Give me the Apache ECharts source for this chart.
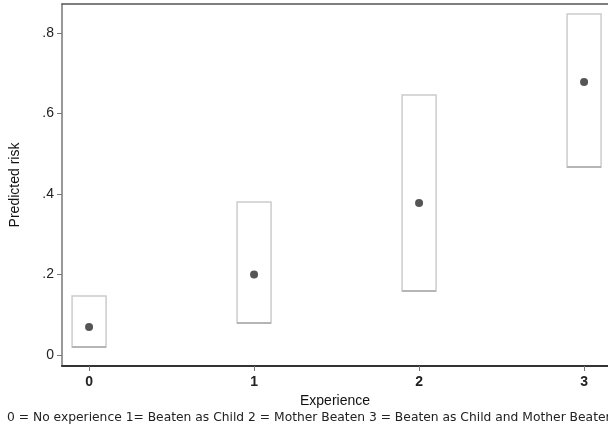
<!DOCTYPE html>
<html><head><meta charset="utf-8">
<script src="https://cdn.jsdelivr.net/npm/echarts@6/dist/echarts.min.js"></script>
<style>html,body{margin:0;padding:0;background:#fff}#c{width:608px;height:431px}</style>
</head><body><div id="c"></div>
<script>
const experience = [0, 1, 2, 3];
const predicted = [0.07, 0.20, 0.378, 0.678];
const lower = [0.02, 0.08, 0.159, 0.467];
const upper = [0.147, 0.38, 0.646, 0.847];
const yTicks = [0, 0.2, 0.4, 0.6, 0.8];
const xTicks = [0, 1, 2, 3];
const footnote = '0 = No experience 1= Beaten as Child 2 = Mother Beaten 3 = Beaten as Child and Mother Beaten';

const chart = echarts.init(document.getElementById('c'), null, {renderer: 'canvas'});
const font = "'Liberation Sans', Arial, sans-serif";
const halfW = 0.103;
const xMin = -0.164, xMax = 3.145;
chart.setOption({
  animation: false,
  grid: {left: 62, top: 4, right: 0, bottom: 65, show: false},
  xAxis: [{
    type: 'value', min: xMin, max: xMax,
    name: 'Experience', nameLocation: 'middle', nameGap: 27,
    nameTextStyle: {fontFamily: font, fontSize: 14, color: '#111'},
    axisLine: {onZero: false, lineStyle: {color: '#333', width: 2}},
    axisTick: {show: true, length: 5, lineStyle: {color: '#777'}, customValues: xTicks},
    axisLabel: {customValues: xTicks, fontFamily: font, fontSize: 14, fontWeight: 'bold', color: '#222', margin: 9},
    splitLine: {show: false}
  }, {
    type: 'value', position: 'top', min: xMin, max: xMax,
    axisLine: {show: true, onZero: false, lineStyle: {color: '#555', width: 1.5}},
    axisTick: {show: false}, axisLabel: {show: false}, splitLine: {show: false}
  }],
  yAxis: {
    type: 'value', min: -0.027, max: 0.872,
    name: 'Predicted risk', nameLocation: 'middle', nameGap: 40,
    nameTextStyle: {fontFamily: font, fontSize: 14, color: '#111'},
    axisLine: {onZero: false, lineStyle: {color: '#777', width: 1.5}},
    axisTick: {show: true, length: 5, lineStyle: {color: '#777'}, customValues: yTicks},
    axisLabel: {customValues: yTicks, fontFamily: font, fontSize: 14, color: '#222', margin: 8,
      formatter: v => v === 0 ? '0' : String(+v.toFixed(1)).replace(/^0\./, '.')},
    splitLine: {show: false}
  },
  graphic: [{type: 'text', left: 7, top: 412, style: {text: footnote, font: "12.3px 'DejaVu Sans', sans-serif", fill: '#222'}}],
  series: [{
    type: 'custom',
    data: experience.map((x, i) => [x, lower[i], upper[i]]),
    renderItem: (params, api) => {
      const x = api.value(0);
      const p1 = api.coord([x - halfW, api.value(2)]);
      const p2 = api.coord([x + halfW, api.value(1)]);
      return {type: 'group', children: [
        {type: 'rect', shape: {x: p1[0], y: p1[1], width: p2[0] - p1[0], height: p2[1] - p1[1]},
         style: {fill: 'none', stroke: '#cccccc', lineWidth: 1.5}},
        {type: 'line', shape: {x1: p1[0], y1: p2[1], x2: p2[0], y2: p2[1]},
         style: {stroke: '#aaaaaa', lineWidth: 1.5}}
      ]};
    },
    z: 2
  }, {
    type: 'scatter',
    data: experience.map((x, i) => [x, predicted[i]]),
    symbolSize: 8,
    itemStyle: {color: '#555555', opacity: 1},
    z: 3
  }]
});
</script></body></html>
